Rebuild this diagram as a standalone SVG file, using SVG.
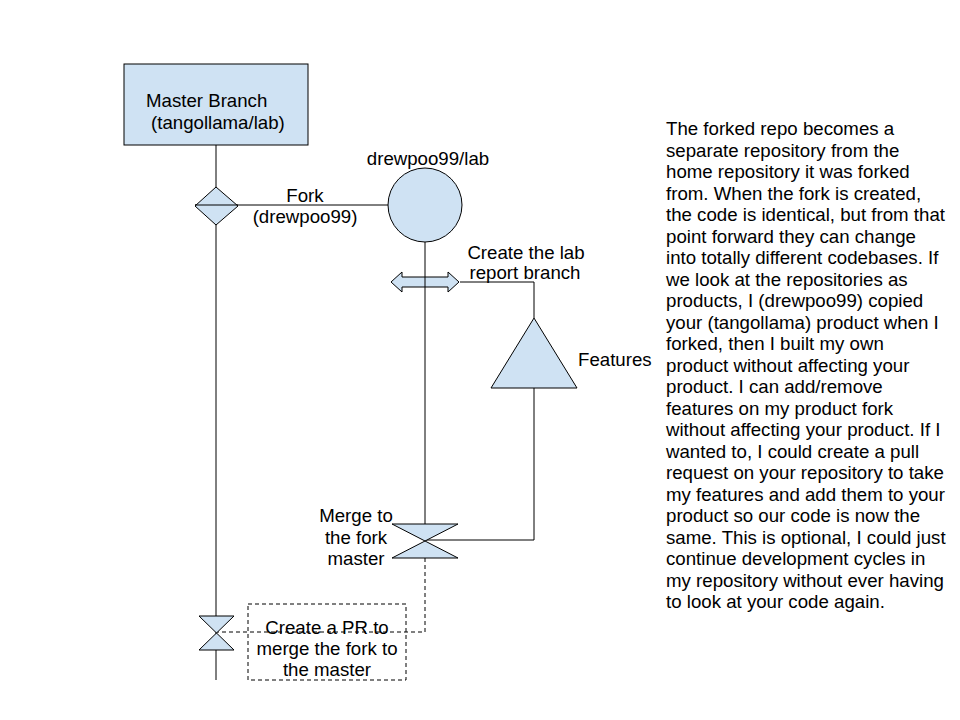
<svg xmlns="http://www.w3.org/2000/svg" width="960" height="720" viewBox="0 0 960 720">
<style>
.shape{fill:#cfe2f3;stroke:#000;stroke-width:1}
.ln{fill:none;stroke:#000;stroke-width:1}
.dash{fill:none;stroke:#000;stroke-width:1;stroke-dasharray:4,3}
text{font-family:"Liberation Sans",Arial,sans-serif;font-size:18.67px;fill:#000}
.c{text-anchor:middle}
</style>
<rect width="960" height="720" fill="#fff"/>
<g id="connectors">
<line class="ln" x1="216" y1="145" x2="216" y2="680"/>
<line class="ln" x1="195" y1="205" x2="388" y2="205"/>
<line class="ln" x1="425" y1="242" x2="425" y2="540"/>
<polyline class="ln" points="460,282 534,282 534,318"/>
<polyline class="ln" points="534,388 534,540 425,540"/>
<polyline class="dash" points="425,558 425,632 216,632"/>
</g>
<g id="master">
<rect class="shape" x="124" y="64" width="184" height="81"/>
<text x="146" y="107">Master Branch</text>
<text x="151" y="129">(tangollama/lab)</text>
</g>
<g id="fork-decision">
<polygon class="shape" points="216,187 238,206 216,225 195,206"/>
<line class="ln" x1="195" y1="205" x2="238" y2="205"/>
</g>
<g id="fork-label">
<text class="c" x="305" y="202">Fork</text>
<text class="c" x="305" y="223">(drewpoo99)</text>
</g>
<g id="fork-repo">
<circle class="shape" cx="425" cy="205" r="37"/>
<text class="c" x="428" y="165">drewpoo99/lab</text>
</g>
<g id="branch-arrow">
<polygon class="shape" points="391,282 402,272 402,277 448,277 448,272 459,282 448,292 448,287 402,287 402,292"/>
<line class="ln" x1="425" y1="277" x2="425" y2="287"/>
<text class="c" x="526" y="259">Create the lab</text>
<text class="c" x="525" y="279">report branch</text>
</g>
<g id="features">
<polygon class="shape" points="534,318 577,388 491,388"/>
<text x="578" y="366">Features</text>
</g>
<g id="merge-fork">
<polygon class="shape" points="392,524 458,524 392,558 458,558"/>
<text class="c" x="356" y="522">Merge to</text>
<text class="c" x="356" y="544">the fork</text>
<text class="c" x="356" y="565">master</text>
</g>
<g id="merge-master">
<polygon class="shape" points="199,616 234,616 199,650 234,650"/>
</g>
<g id="pr-note">
<rect class="dash" x="248" y="604" width="158" height="76"/>
<text class="c" x="327" y="634">Create a PR to</text>
<text class="c" x="327" y="655">merge the fork to</text>
<text class="c" x="327" y="676">the master</text>
</g>
<g id="description">
<text x="666" y="135">The forked repo becomes a</text>
<text x="666" y="156.5">separate repository from the</text>
<text x="666" y="178">home repository it was forked</text>
<text x="666" y="199.5">from. When the fork is created,</text>
<text x="666" y="221">the code is identical, but from that</text>
<text x="666" y="242.5">point forward they can change</text>
<text x="666" y="264">into totally different codebases. If</text>
<text x="666" y="285.5">we look at the repositories as</text>
<text x="666" y="307">products, I (drewpoo99) copied</text>
<text x="666" y="328.5">your (tangollama) product when I</text>
<text x="666" y="350">forked, then I built my own</text>
<text x="666" y="371.5">product without affecting your</text>
<text x="666" y="393">product. I can add/remove</text>
<text x="666" y="414.5">features on my product fork</text>
<text x="666" y="436">without affecting your product. If I</text>
<text x="666" y="457.5">wanted to, I could create a pull</text>
<text x="666" y="479">request on your repository to take</text>
<text x="666" y="500.5">my features and add them to your</text>
<text x="666" y="522">product so our code is now the</text>
<text x="666" y="543.5">same. This is optional, I could just</text>
<text x="666" y="565">continue development cycles in</text>
<text x="666" y="586.5">my repository without ever having</text>
<text x="666" y="608">to look at your code again.</text>
</g>
</svg>
